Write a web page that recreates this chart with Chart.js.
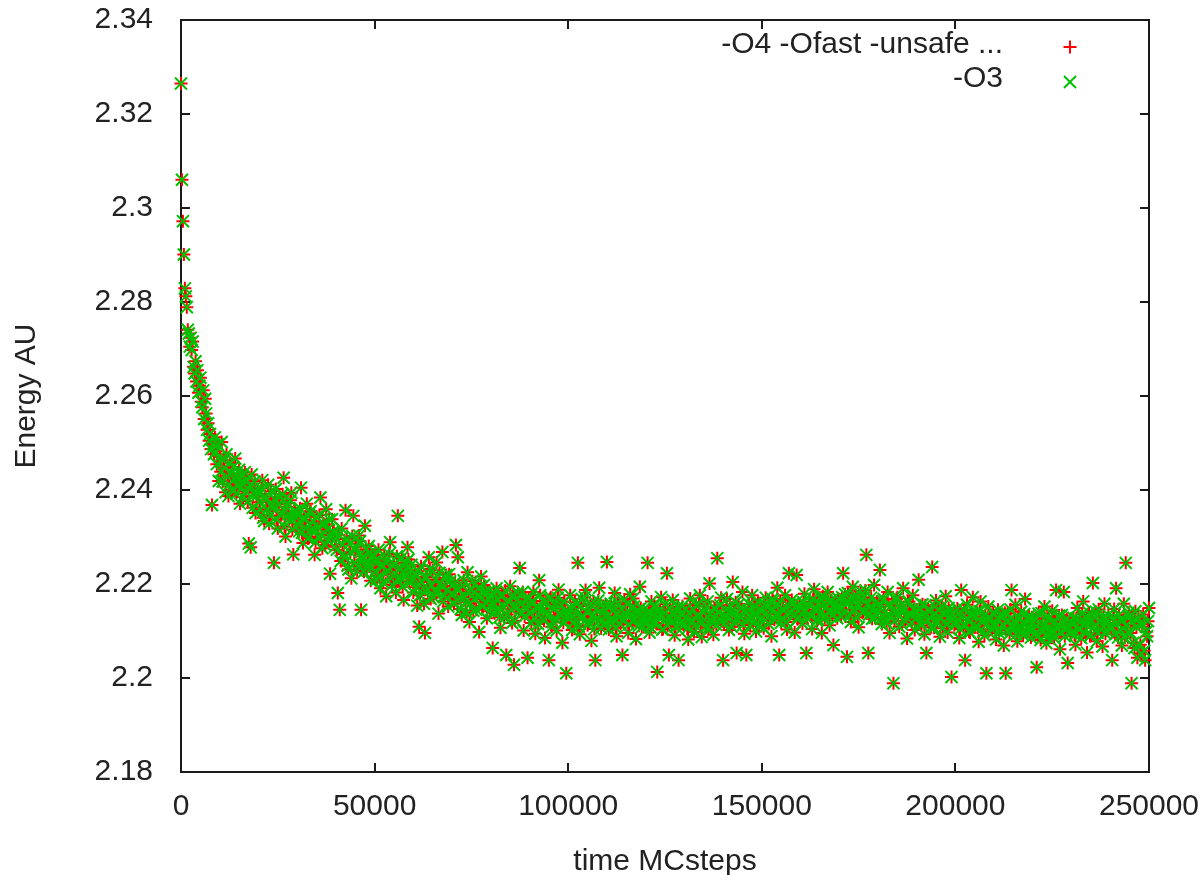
<!DOCTYPE html>
<html>
<head>
<meta charset="utf-8">
<title>Energy vs MC steps</title>
<script src="https://cdn.jsdelivr.net/npm/chart.js@4.4.1/dist/chart.umd.min.js"></script>
<style>
  html, body { margin: 0; padding: 0; background: #fff; }
  canvas { display: block; }
</style>
</head>
<body>
<canvas id="myChart" width="1203" height="875"></canvas>
<script>
const seriesLabels = ["-O4 -Ofast -unsafe ...", "-O3"];
const sampleEvery = 250; // MC steps between two samples

// energy per sample, both builds give the same trajectory
const energy = [
  2.3265, 2.3060, 2.2972, 2.2901, 2.2829, 2.2812, 2.2789, 2.2741, 2.2733, 2.2705,
  2.2724, 2.2698, 2.2716, 2.2662, 2.2648, 2.2674, 2.2631, 2.2655, 2.2607, 2.2622,
  2.2639, 2.2588, 2.2576, 2.2612, 2.2551, 2.2594, 2.2563, 2.2528, 2.2542, 2.2505,
  2.2519, 2.2487, 2.2368, 2.2498, 2.2476, 2.2512, 2.2482, 2.2455, 2.2497, 2.2419,
  2.2471, 2.2439, 2.2502, 2.2418, 2.2463, 2.2447, 2.2395, 2.2476, 2.2428, 2.2387,
  2.2412, 2.2458, 2.2436, 2.2401, 2.2449, 2.2423, 2.2467, 2.2392, 2.2431, 2.2408,
  2.2443, 2.2371, 2.2416, 2.2429, 2.2385, 2.2412, 2.2438, 2.2397, 2.2421, 2.2376,
  2.2286, 2.2409, 2.2278, 2.2433, 2.2362, 2.2394, 2.2418, 2.2351, 2.2387, 2.2402,
  2.2392, 2.2374, 2.2358, 2.2403, 2.2421, 2.2341, 2.2334, 2.2386, 2.2379, 2.2359,
  2.2411, 2.2328, 2.2345, 2.2397, 2.2367, 2.2362, 2.2245, 2.2381, 2.2402, 2.2337,
  2.2318, 2.2369, 2.2385, 2.2346, 2.2352, 2.2391, 2.2426, 2.2322, 2.2301, 2.2364,
  2.2372, 2.2349, 2.2339, 2.2378, 2.2394, 2.2316, 2.2263, 2.2355, 2.2356, 2.2341,
  2.2348, 2.2326, 2.2312, 2.2361, 2.2405, 2.2309, 2.2287, 2.2342, 2.2336, 2.2318,
  2.2371, 2.2297, 2.2298, 2.2352, 2.2355, 2.2314, 2.2319, 2.2333, 2.2262, 2.2289,
  2.2343, 2.2321, 2.2301, 2.2347, 2.2384, 2.2304, 2.2276, 2.2329, 2.2327, 2.2283,
  2.2359, 2.2315, 2.2293, 2.2337, 2.2222, 2.2298, 2.2338, 2.2312, 2.2309, 2.2279,
  2.2296, 2.2273, 2.2181, 2.2305, 2.2145, 2.2249, 2.2318, 2.2284, 2.2264, 2.2256,
  2.2357, 2.2297, 2.2239, 2.2231, 2.2286, 2.2268, 2.2212, 2.2302, 2.2345, 2.2245,
  2.2271, 2.2279, 2.2228, 2.2238, 2.2303, 2.2291, 2.2145, 2.2252, 2.2259, 2.2226,
  2.2324, 2.2274, 2.2235, 2.2243, 2.2281, 2.2266, 2.2207, 2.2234, 2.2262, 2.2258,
  2.2248, 2.2226, 2.2209, 2.2254, 2.2273, 2.2218, 2.2191, 2.2241, 2.2236, 2.2203,
  2.2262, 2.2247, 2.2174, 2.2229, 2.2227, 2.2264, 2.2289, 2.2212, 2.2198, 2.2238,
  2.2243, 2.2221, 2.2182, 2.2259, 2.2345, 2.2207, 2.2215, 2.2233, 2.2256, 2.2194,
  2.2166, 2.2246, 2.2232, 2.2217, 2.2278, 2.2252, 2.2203, 2.2229, 2.2241, 2.2208,
  2.2182, 2.2211, 2.2223, 2.2193, 2.2154, 2.2227, 2.2109, 2.2176, 2.2238, 2.2204,
  2.2191, 2.2158, 2.2096, 2.2216, 2.2214, 2.2189, 2.2257, 2.2232, 2.2168, 2.2197,
  2.2229, 2.2172, 2.2185, 2.2209, 2.2246, 2.2183, 2.2137, 2.2224, 2.2201, 2.2195,
  2.2268, 2.2163, 2.2175, 2.2212, 2.2219, 2.2187, 2.2152, 2.2221, 2.2206, 2.2179,
  2.2196, 2.2178, 2.2158, 2.2203, 2.2283, 2.2165, 2.2257, 2.2189, 2.2171, 2.2147,
  2.2134, 2.2196, 2.2208, 2.2172, 2.2162, 2.2139, 2.2225, 2.2184, 2.2119, 2.2159,
  2.2187, 2.2206, 2.2143, 2.2168, 2.2201, 2.2145, 2.2175, 2.2191, 2.2098, 2.2174,
  2.2216, 2.2153, 2.2152, 2.2198, 2.2183, 2.2161, 2.2127, 2.2182, 2.2169, 2.2142,
  2.2172, 2.2158, 2.2064, 2.2181, 2.2138, 2.2144, 2.2191, 2.2167, 2.2149, 2.2129,
  2.2107, 2.2173, 2.2176, 2.2152, 2.2128, 2.2186, 2.2049, 2.2135, 2.2163, 2.2161,
  2.2195, 2.2146, 2.2117, 2.2178, 2.2028, 2.2122, 2.2154, 2.2165, 2.2182, 2.2141,
  2.2234, 2.2157, 2.2139, 2.2183, 2.2101, 2.2131, 2.2168, 2.2149, 2.2043, 2.2169,
  2.2152, 2.2137, 2.2117, 2.2164, 2.2183, 2.2128, 2.2094, 2.2151, 2.2146, 2.2115,
  2.2208, 2.2176, 2.2129, 2.2143, 2.2163, 2.2122, 2.2085, 2.2159, 2.2141, 2.2134,
  2.2038, 2.2168, 2.2172, 2.2109, 2.2119, 2.2147, 2.2156, 2.2126, 2.2101, 2.2171,
  2.2188, 2.2138, 2.2133, 2.2155, 2.2075, 2.2118, 2.2162, 2.2142, 2.2010, 2.2131,
  2.2139, 2.2126, 2.2176, 2.2148, 2.2102, 2.2117, 2.2151, 2.2161, 2.2124, 2.2135,
  2.2245, 2.2109, 2.2093, 2.2153, 2.2168, 2.2128, 2.2131, 2.2172, 2.2187, 2.2141,
  2.2112, 2.2119, 2.2145, 2.2157, 2.2079, 2.2132, 2.2163, 2.2104, 2.2038, 2.2146,
  2.2127, 2.2165, 2.2192, 2.2123, 2.2106, 2.2138, 2.2149, 2.2112, 2.2118, 2.2156,
  2.2247, 2.2133, 2.2103, 2.2152, 2.2158, 2.2118, 2.2126, 2.2144, 2.2181, 2.2107,
  2.2089, 2.2161, 2.2142, 2.2129, 2.2115, 2.2147, 2.2049, 2.2122, 2.2167, 2.2138,
  2.2134, 2.2157, 2.2096, 2.2114, 2.2178, 2.2136, 2.2121, 2.2169, 2.2152, 2.2124,
  2.2083, 2.2143, 2.2139, 2.2111, 2.2194, 2.2149, 2.2108, 2.2131, 2.2145, 2.2116,
  2.2131, 2.2122, 2.2245, 2.2141, 2.2097, 2.2108, 2.2163, 2.2135, 2.2118, 2.2154,
  2.2149, 2.2117, 2.2013, 2.2129, 2.2136, 2.2146, 2.2172, 2.2103, 2.2104, 2.2138,
  2.2157, 2.2125, 2.2223, 2.2112, 2.2049, 2.2148, 2.2128, 2.2121, 2.2166, 2.2134,
  2.2091, 2.2109, 2.2142, 2.2151, 2.2038, 2.2127, 2.2115, 2.2139, 2.2153, 2.2114,
  2.2114, 2.2128, 2.2147, 2.2105, 2.2082, 2.2137, 2.2169, 2.2119, 2.2123, 2.2146,
  2.2098, 2.2112, 2.2155, 2.2133, 2.2131, 2.2158, 2.2176, 2.2116, 2.2087, 2.2141,
  2.2139, 2.2124, 2.2108, 2.2152, 2.2163, 2.2107, 2.2201, 2.2136, 2.2119, 2.2129,
  2.2092, 2.2149, 2.2148, 2.2113, 2.2255, 2.2138, 2.2126, 2.2155, 2.2171, 2.2121,
  2.2038, 2.2116, 2.2133, 2.2145, 2.2168, 2.2127, 2.2102, 2.2153, 2.2141, 2.2109,
  2.2204, 2.2138, 2.2119, 2.2161, 2.2053, 2.2122, 2.2157, 2.2134, 2.2128, 2.2148,
  2.2183, 2.2113, 2.2094, 2.2139, 2.2049, 2.2126, 2.2145, 2.2157, 2.2112, 2.2131,
  2.2176, 2.2118, 2.2137, 2.2152, 2.2099, 2.2135, 2.2162, 2.2111, 2.2124, 2.2146,
  2.2142, 2.2129, 2.2106, 2.2157, 2.2171, 2.2138, 2.2128, 2.2115, 2.2153, 2.2146,
  2.2089, 2.2168, 2.2164, 2.2124, 2.2135, 2.2151, 2.2192, 2.2136, 2.2049, 2.2162,
  2.2118, 2.2127, 2.2147, 2.2143, 2.2176, 2.2119, 2.2103, 2.2155, 2.2223, 2.2141,
  2.2139, 2.2166, 2.2158, 2.2132, 2.2097, 2.2149, 2.2219, 2.2125, 2.2131, 2.2158,
  2.2148, 2.2136, 2.2116, 2.2161, 2.2179, 2.2142, 2.2053, 2.2127, 2.2137, 2.2155,
  2.2162, 2.2131, 2.2104, 2.2168, 2.2189, 2.2145, 2.2143, 2.2122, 2.2125, 2.2159,
  2.2171, 2.2139, 2.2096, 2.2174, 2.2158, 2.2128, 2.2134, 2.2152, 2.2183, 2.2141,
  2.2112, 2.2163, 2.2166, 2.2133, 2.2070, 2.2156, 2.2149, 2.2144, 2.2127, 2.2169,
  2.2156, 2.2147, 2.2131, 2.2172, 2.2223, 2.2138, 2.2178, 2.2159, 2.2045, 2.2181,
  2.2162, 2.2134, 2.2119, 2.2165, 2.2194, 2.2148, 2.2143, 2.2176, 2.2167, 2.2129,
  2.2108, 2.2153, 2.2185, 2.2168, 2.2139, 2.2142, 2.2172, 2.2186, 2.2262, 2.2157,
  2.2053, 2.2135, 2.2151, 2.2171, 2.2126, 2.2149, 2.2198, 2.2128, 2.2137, 2.2163,
  2.2142, 2.2151, 2.2230, 2.2126, 2.2115, 2.2164, 2.2168, 2.2139, 2.2127, 2.2117,
  2.2183, 2.2157, 2.2096, 2.2132, 2.2154, 2.2145, 2.1989, 2.2121, 2.2138, 2.2168,
  2.2172, 2.2136, 2.2109, 2.2152, 2.2145, 2.2114, 2.2191, 2.2143, 2.2121, 2.2129,
  2.2084, 2.2161, 2.2163, 2.2138, 2.2134, 2.2118, 2.2176, 2.2147, 2.2102, 2.2125,
  2.2139, 2.2131, 2.2209, 2.2148, 2.2118, 2.2112, 2.2157, 2.2136, 2.2093, 2.2155,
  2.2053, 2.2124, 2.2146, 2.2141, 2.2128, 2.2108, 2.2236, 2.2133, 2.2107, 2.2152,
  2.2165, 2.2119, 2.2131, 2.2144, 2.2088, 2.2127, 2.2152, 2.2106, 2.2119, 2.2139,
  2.2174, 2.2116, 2.2097, 2.2149, 2.2143, 2.2122, 2.2002, 2.2135, 2.2126, 2.2113,
  2.2121, 2.2118, 2.2148, 2.2136, 2.2085, 2.2104, 2.2187, 2.2129, 2.2113, 2.2145,
  2.2038, 2.2112, 2.2156, 2.2124, 2.2099, 2.2097, 2.2134, 2.2138, 2.2172, 2.2115,
  2.2108, 2.2131, 2.2141, 2.2107, 2.2077, 2.2142, 2.2163, 2.2121, 2.2119, 2.2099,
  2.2091, 2.2134, 2.2010, 2.2116, 2.2152, 2.2128, 2.2127, 2.2105, 2.2103, 2.2139,
  2.2116, 2.2109, 2.2082, 2.2127, 2.2145, 2.2096, 2.2103, 2.2133, 2.2128, 2.2114,
  2.2069, 2.2139, 2.2010, 2.2101, 2.2137, 2.2122, 2.2094, 2.2146, 2.2187, 2.2107,
  2.2112, 2.2119, 2.2156, 2.2093, 2.2078, 2.2131, 2.2124, 2.2112, 2.2141, 2.2098,
  2.2091, 2.2136, 2.2168, 2.2115, 2.2105, 2.2124, 2.2132, 2.2102, 2.2086, 2.2129,
  2.2118, 2.2104, 2.2093, 2.2125, 2.2023, 2.2091, 2.2137, 2.2116, 2.2081, 2.2138,
  2.2109, 2.2099, 2.2152, 2.2112, 2.2074, 2.2087, 2.2126, 2.2129, 2.2098, 2.2106,
  2.2143, 2.2094, 2.2085, 2.2121, 2.2187, 2.2108, 2.2113, 2.2133, 2.2061, 2.2097,
  2.2134, 2.2115, 2.2183, 2.2089, 2.2102, 2.2126, 2.2032, 2.2111, 2.2121, 2.2095,
  2.2096, 2.2113, 2.2128, 2.2092, 2.2071, 2.2127, 2.2149, 2.2104, 2.2107, 2.2119,
  2.2085, 2.2136, 2.2163, 2.2098, 2.2118, 2.2115, 2.2054, 2.2131, 2.2139, 2.2089,
  2.2092, 2.2122, 2.2202, 2.2107, 2.2111, 2.2141, 2.2078, 2.2096, 2.2146, 2.2118,
  2.2123, 2.2103, 2.2067, 2.2129, 2.2158, 2.2094, 2.2101, 2.2124, 2.2134, 2.2108,
  2.2112, 2.2105, 2.2038, 2.2128, 2.2147, 2.2093, 2.2191, 2.2117, 2.2086, 2.2134,
  2.2124, 2.2101, 2.2069, 2.2122, 2.2158, 2.2086, 2.2245, 2.2113, 2.2097, 2.2139,
  2.2131, 2.2096, 2.1989, 2.2119, 2.2075, 2.2064, 2.2142, 2.2108, 2.2043, 2.2126,
  2.2116, 2.2071, 2.2052, 2.2115, 2.2135, 2.2058, 2.2038, 2.2098, 2.2089, 2.2121,
  2.2149
];

const xTicks = [0, 50000, 100000, 150000, 200000, 250000];
const yTicks = [2.18, 2.2, 2.22, 2.24, 2.26, 2.28, 2.3, 2.32, 2.34];

const RED = "#ff0000";
const GREEN = "#00c000";
const INK = "#222222";
const FONT = '"Liberation Sans", Arial, sans-serif';

const points = energy.map((e, i) => ({ x: i * sampleEvery, y: e }));

// gnuplot style: closed box with ticks on the inside of all four sides, key at top right
const framePlugin = {
  id: "frame",
  beforeDatasetsDraw(chart) {
    const { ctx, chartArea: a, scales } = chart;
    const len = 9;
    ctx.save();
    ctx.strokeStyle = "#1a1a1a";
    ctx.lineWidth = 2;
    ctx.strokeRect(a.left, a.top, a.right - a.left, a.bottom - a.top);
    ctx.beginPath();
    scales.x.ticks.forEach(t => {
      const px = Math.round(scales.x.getPixelForValue(t.value));
      ctx.moveTo(px, a.bottom); ctx.lineTo(px, a.bottom - len);
      ctx.moveTo(px, a.top); ctx.lineTo(px, a.top + len);
    });
    scales.y.ticks.forEach(t => {
      const py = Math.round(scales.y.getPixelForValue(t.value));
      ctx.moveTo(a.left, py); ctx.lineTo(a.left + len, py);
      ctx.moveTo(a.right, py); ctx.lineTo(a.right - len, py);
    });
    ctx.stroke();
    ctx.restore();
  },
  afterDraw(chart) {
    const { ctx, chartArea: a } = chart;
    const rows = [
      { text: seriesLabels[0], style: "cross", color: RED, radius: 6.5, ty: 45, my: 47 },
      { text: seriesLabels[1], style: "crossRot", color: GREEN, radius: 8.5, ty: 79, my: 82 }
    ];
    ctx.save();
    ctx.font = "30px " + FONT;
    ctx.textAlign = "right";
    ctx.textBaseline = "middle";
    rows.forEach(r => {
      ctx.fillStyle = INK;
      ctx.fillText(r.text, a.right - 146, r.ty);
      ctx.strokeStyle = r.color;
      ctx.lineWidth = 2;
      Chart.helpers.drawPoint(ctx, { pointStyle: r.style, radius: r.radius, borderWidth: 2, rotation: 0 }, a.right - 79, r.my);
    });
    ctx.restore();
  }
};

Chart.defaults.font.family = FONT;
Chart.defaults.font.size = 30;
Chart.defaults.color = INK;

new Chart(document.getElementById("myChart"), {
  type: "scatter",
  data: {
    datasets: [
      {
        label: seriesLabels[1],
        data: points,
        pointStyle: "crossRot",
        radius: 8.5,
        hoverRadius: 8.5,
        borderWidth: 2,
        borderColor: GREEN,
        backgroundColor: GREEN,
        clip: false
      },
      {
        label: seriesLabels[0],
        data: points,
        pointStyle: "cross",
        radius: 6.5,
        hoverRadius: 6.5,
        borderWidth: 2,
        borderColor: RED,
        backgroundColor: RED,
        clip: false
      }
    ]
  },
  options: {
    responsive: false,
    animation: false,
    events: [],
    layout: { padding: { top: 20, right: 54, left: 0, bottom: 0 } },
    plugins: { legend: { display: false }, tooltip: { enabled: false } },
    scales: {
      x: {
        type: "linear",
        min: 0,
        max: 250000,
        afterBuildTicks: s => { s.ticks = xTicks.map(v => ({ value: v })); },
        afterFit: s => { s.height = 103; s.paddingLeft = 0; s.paddingRight = 0; },
        grid: { display: false, drawTicks: false },
        border: { display: false },
        ticks: { padding: 17, maxRotation: 0, callback: v => String(v) },
        title: { display: true, text: "time MCsteps", font: { size: 30, lineHeight: 0.9 }, padding: 0 }
      },
      y: {
        type: "linear",
        min: 2.18,
        max: 2.34,
        afterBuildTicks: s => { s.ticks = yTicks.map(v => ({ value: v })); },
        afterFit: s => { s.width = 181; s.paddingTop = 0; s.paddingBottom = 0; },
        grid: { display: false, drawTicks: false },
        border: { display: false },
        ticks: { padding: 28, callback: v => String(+v.toFixed(2)) },
        title: { display: true, text: "Energy AU", font: { size: 30 }, padding: { top: 9, bottom: 0 } }
      }
    }
  },
  plugins: [framePlugin]
});
</script>
</body>
</html>
